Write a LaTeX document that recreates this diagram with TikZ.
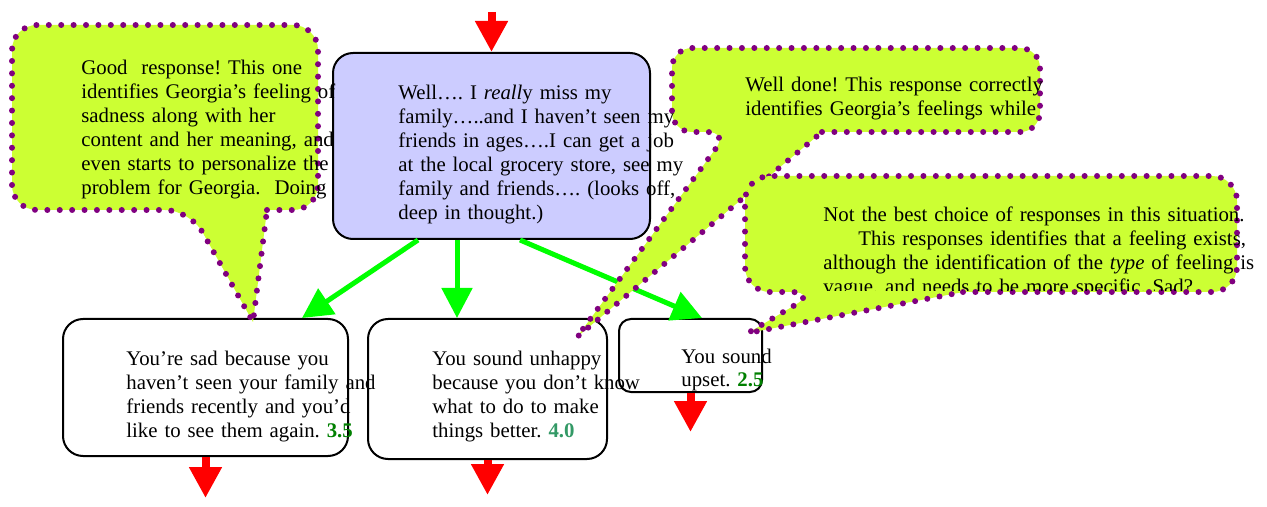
\documentclass[tikz,border=0pt]{standalone}
\usepackage{fontspec}
\setmainfont{Liberation Serif}
\usetikzlibrary{arrows.meta,calc}

\definecolor{lavender}{HTML}{CCCCFF}
\definecolor{limefill}{HTML}{CCFF33}
\definecolor{dotpurple}{HTML}{800080}
\definecolor{scoregreen}{HTML}{008000}
\definecolor{seagreen}{HTML}{339966}

\tikzset{
  box/.style={draw=black, line width=1pt, rounded corners=10pt, fill=white, inner sep=0pt},
  txt/.style={anchor=base west, inner sep=0pt, text width=240pt, align=left,
    font=\fontsize{10.4}{12}\selectfont\frenchspacing},
  bubble/.style={fill=limefill, draw=dotpurple, line width=3pt,
    dash pattern=on 0pt off 6.2pt, line cap=round},
  redarrow/.style={draw=red, line width=4pt, -{Triangle[width=15.5pt,length=15.5pt]}},
  greenarrow/.style={draw=green, line width=2.5pt, -{Triangle[width=15pt,length=15pt]}},
}

\begin{document}
\begin{tikzpicture}[x=0.5pt, y=-0.5pt]
\useasboundingbox (0,0) rectangle (1267,507);

% boxes
\node[box, fill=lavender, minimum width=158.5pt, minimum height=93pt] (well) at (491.5,146) {};
\node[box, minimum width=142.5pt, minimum height=68.5pt] (boxA) at (205.5,387.5) {};
\node[box, minimum width=119.5pt, minimum height=70pt] (boxB) at (487.5,389) {};
\node[box, rounded corners=6pt, minimum width=71.5pt, minimum height=36.5pt] (boxC) at (690.5,355.5) {};

% red arrows in and out
\coordinate (topin) at (491.5,12);
\coordinate (outA) at (205.5,498);
\coordinate (outB) at (487.5,495);
\coordinate (outC) at (690.5,432);
\draw[redarrow] (topin) -- (well.north);
\draw[redarrow] (boxA.south) -- (outA);
\draw[redarrow] (boxB.south) -- (outB);
\draw[redarrow] (boxC.south) -- (outC);

% green arrows to the responses
\draw[greenarrow] ($(well.south)+(-73.5,0)$) -- ($(boxA.north)+(96.5,0)$);
\draw[greenarrow] ($(well.south)+(-34.5,0)$) -- ($(boxB.north)+(-30.5,0)$);
\draw[greenarrow] ($(well.south)+(28.5,0)$) -- ($(boxC.north)+(11.5,0)$);

% callouts
\draw[bubble] (267,210) [rounded corners=12.5pt] -- (318,210) -- (318,25) -- (12,25) -- (12,210)
  -- (190,210) [sharp corners] -- (253,322) -- cycle;
\draw[bubble] (822,132) [rounded corners=10pt] -- (1040,132) -- (1040,48) -- (672,48) -- (672,132)
  -- (728,132) [sharp corners] -- (577,337) -- cycle;
\draw[bubble] (963,292) [rounded corners=12.5pt] -- (1237,292) -- (1237,176) -- (745,176) -- (745,292)
  -- (817,292) [sharp corners] -- (748,333) -- cycle;

% texts
\node[txt] (welltext) at (398,100) {Well…. I \textit{reall}y miss my\\family…..and I haven’t seen my\\friends in ages….I can get a job\\at the local grocery store, see my\\family and friends…. (looks off,\\deep in thought.)};
\node[txt] (textA) at (126,365) {You’re sad because you\\haven’t seen your family and\\friends recently and you’d\\like to see them again. \textbf{\textcolor{scoregreen}{3.5}}};
\node[txt] (textB) at (432,365) {You sound unhappy\\because you don’t know\\what to do to make\\things better. \textbf{\textcolor{seagreen}{4.0}}};
\node[txt] (textC) at (681,363) {You sound\\upset. \textbf{\textcolor{scoregreen}{2.5}}};

\begin{scope}
\clip (0,0) rectangle (1267,204);
\node[txt] (goodtext) at (81,75) {Good\ \ response! This one\\identifies Georgia’s feeling of\\sadness along with her\\content and her meaning, and\\even starts to personalize the\\problem for Georgia.\ \ Doing};
\end{scope}
\begin{scope}
\clip (0,0) rectangle (1267,131);
\node[txt] (donetext) at (745,92) {Well done! This response correctly\\identifies Georgia’s feelings while};
\end{scope}
\begin{scope}
\clip (0,0) rectangle (1267,291);
\node[txt] (besttext) at (823,222) {Not the best choice of responses in this situation.\\\hspace*{17.5pt}This responses identifies that a feeling exists,\\although the identification of the \textit{type} of feeling is\\vague, and needs to be more specific. Sad?};
\end{scope}
\end{tikzpicture}
\end{document}
